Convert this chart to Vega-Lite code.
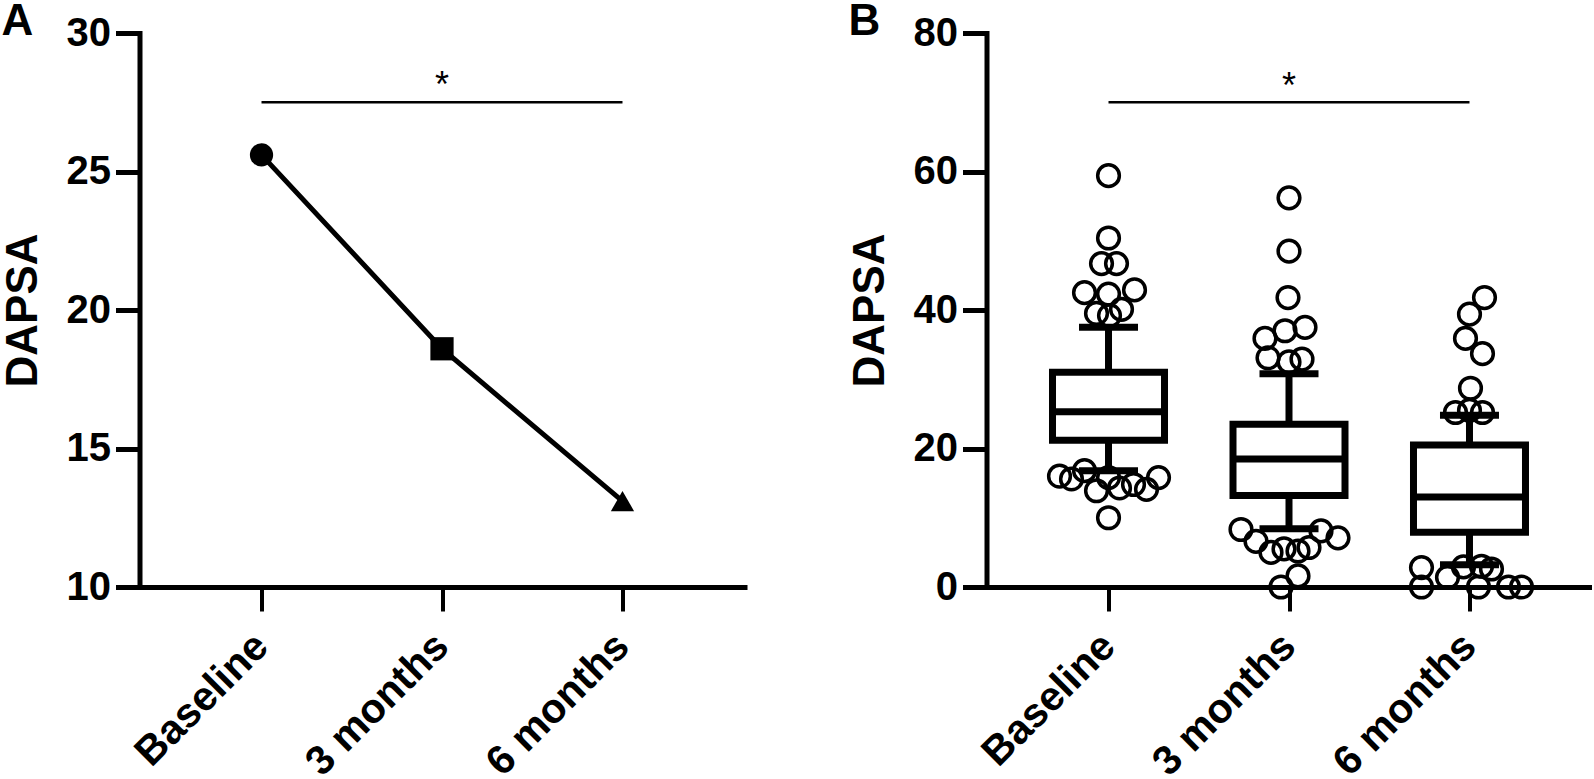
{
  "$schema": "https://vega.github.io/schema/vega-lite/v6.json",
  "background": "white",
  "padding": {"left": 1.5, "top": 0, "right": 0, "bottom": 0},
  "spacing": 242,
  "bounds": "flush",
  "config": {
    "view": {"stroke": null},
    "font": "Liberation Sans",
    "axis": {"grid": false, "domainColor": "black", "domainWidth": 5, "domainCap": "square", "tickColor": "black", "tickWidth": 5, "tickSize": 24, "labelColor": "black", "labelFont": "Liberation Sans", "labelFontWeight": "bold", "labelLimit": 0, "titleColor": "black", "titleFont": "Liberation Sans", "titleFontWeight": "bold", "titleFontSize": 44},
    "axisY": {"labelFontSize": 40, "labelPadding": 5, "titleX": -103, "titleBaseline": "alphabetic"},
    "axisX": {"labelFontSize": 41, "labelAngle": -45, "labelAlign": "right", "labelBaseline": "middle", "labelPadding": 29, "tickWidth": 4},
    "title": {"font": "Liberation Sans", "fontSize": 44, "fontWeight": "bold", "color": "black", "anchor": "start", "frame": "bounds", "baseline": "alphabetic", "offset": -31}
  },
  "hconcat": [
    {
      "width": 605,
      "height": 554,
      "title": {"text": "A"},
      "layer": [
        {
          "data": {"values": [{"start": "Baseline", "end": "6 months", "y": 27.5}]},
          "mark": {"type": "rule", "color": "black", "strokeWidth": 2.5},
          "encoding": {
            "x": {"field": "start", "type": "nominal", "title": null, "scale": {"type": "point", "domain": ["Baseline", "3 months", "6 months"], "padding": 0.676}},
            "x2": {"field": "end"},
            "y": {"field": "y", "type": "quantitative", "title": "DAPSA", "scale": {"domain": [10, 30], "zero": false, "nice": false}, "axis": {"values": [10, 15, 20, 25, 30]}}
          }
        },
        {
          "data": {"values": [{"time": "3 months", "y": 27.68, "label": "*"}]},
          "mark": {"type": "text", "fontSize": 36, "baseline": "alphabetic", "align": "center", "color": "black"},
          "encoding": {
            "x": {"field": "time", "type": "nominal", "title": null, "scale": {"type": "point", "domain": ["Baseline", "3 months", "6 months"], "padding": 0.676}},
            "y": {"field": "y", "type": "quantitative", "title": "DAPSA", "scale": {"domain": [10, 30], "zero": false, "nice": false}, "axis": {"values": [10, 15, 20, 25, 30]}},
            "text": {"field": "label"}
          }
        },
        {
          "data": {"values": [
            {"time": "Baseline", "dapsa": 25.6},
            {"time": "3 months", "dapsa": 18.6},
            {"time": "6 months", "dapsa": 13.1}
          ]},
          "encoding": {
            "x": {"field": "time", "type": "nominal", "title": null, "scale": {"type": "point", "domain": ["Baseline", "3 months", "6 months"], "padding": 0.676}},
            "y": {"field": "dapsa", "type": "quantitative", "title": "DAPSA", "scale": {"domain": [10, 30], "zero": false, "nice": false}, "axis": {"values": [10, 15, 20, 25, 30]}}
          },
          "layer": [
            {"mark": {"type": "line", "color": "black", "strokeWidth": 5}},
            {
              "mark": {"type": "point", "filled": true, "color": "black", "opacity": 1, "size": 540},
              "encoding": {
                "shape": {"field": "time", "type": "nominal", "legend": null, "scale": {"domain": ["Baseline", "3 months", "6 months"], "range": ["circle", "square", "triangle-up"]}}
              }
            }
          ]
        }
      ]
    },
    {
      "width": 605,
      "height": 554,
      "title": {"text": "B"},
      "layer": [
        {
          "data": {"name": "boxes", "values": [
            {"time": "Baseline", "lo": 16.8, "q1": 21.2, "med": 25.3, "q3": 31.0, "hi": 37.5},
            {"time": "3 months", "lo": 8.4, "q1": 13.2, "med": 18.5, "q3": 23.5, "hi": 30.8},
            {"time": "6 months", "lo": 3.2, "q1": 7.9, "med": 13.0, "q3": 20.5, "hi": 24.8}
          ]},
          "encoding": {
            "x": {"field": "time", "type": "nominal", "title": null, "scale": {"type": "point", "domain": ["Baseline", "3 months", "6 months"], "padding": 0.676}}
          },
          "layer": [
            {
              "mark": {"type": "rule", "color": "black", "strokeWidth": 7},
              "encoding": {
                "y": {"field": "lo", "type": "quantitative", "title": "DAPSA", "scale": {"domain": [0, 80], "nice": false}, "axis": {"values": [0, 20, 40, 60, 80]}},
                "y2": {"field": "hi"}
              }
            },
            {
              "mark": {"type": "bar", "fill": "white", "stroke": "black", "strokeWidth": 7, "width": 112, "opacity": 1},
              "encoding": {
                "y": {"field": "q1", "type": "quantitative", "title": "DAPSA", "scale": {"domain": [0, 80], "nice": false}, "axis": {"values": [0, 20, 40, 60, 80]}},
                "y2": {"field": "q3"}
              }
            },
            {
              "mark": {"type": "tick", "color": "black", "thickness": 7, "size": 112, "opacity": 1},
              "encoding": {
                "y": {"field": "med", "type": "quantitative", "title": "DAPSA", "scale": {"domain": [0, 80], "nice": false}, "axis": {"values": [0, 20, 40, 60, 80]}}
              }
            },
            {
              "mark": {"type": "tick", "color": "black", "thickness": 7, "size": 59, "opacity": 1},
              "encoding": {
                "y": {"field": "lo", "type": "quantitative", "title": "DAPSA", "scale": {"domain": [0, 80], "nice": false}, "axis": {"values": [0, 20, 40, 60, 80]}}
              }
            },
            {
              "mark": {"type": "tick", "color": "black", "thickness": 7, "size": 59, "opacity": 1},
              "encoding": {
                "y": {"field": "hi", "type": "quantitative", "title": "DAPSA", "scale": {"domain": [0, 80], "nice": false}, "axis": {"values": [0, 20, 40, 60, 80]}}
              }
            }
          ]
        },
        {
          "data": {"values": [
            {"time": "Baseline", "v": 59.4, "j": 0},
            {"time": "Baseline", "v": 50.4, "j": 0},
            {"time": "Baseline", "v": 46.7, "j": -7},
            {"time": "Baseline", "v": 46.7, "j": 8},
            {"time": "Baseline", "v": 42.5, "j": -24},
            {"time": "Baseline", "v": 42.3, "j": 0},
            {"time": "Baseline", "v": 42.9, "j": 26},
            {"time": "Baseline", "v": 39.5, "j": -12},
            {"time": "Baseline", "v": 39.2, "j": 1},
            {"time": "Baseline", "v": 40.1, "j": 13},
            {"time": "Baseline", "v": 16.0, "j": -49},
            {"time": "Baseline", "v": 15.6, "j": -37},
            {"time": "Baseline", "v": 16.8, "j": -24},
            {"time": "Baseline", "v": 13.9, "j": -12},
            {"time": "Baseline", "v": 15.8, "j": 0},
            {"time": "Baseline", "v": 14.3, "j": 11},
            {"time": "Baseline", "v": 14.8, "j": 25},
            {"time": "Baseline", "v": 14.1, "j": 38},
            {"time": "Baseline", "v": 15.8, "j": 50},
            {"time": "Baseline", "v": 10.0, "j": 0},
            {"time": "3 months", "v": 56.2, "j": 0},
            {"time": "3 months", "v": 48.5, "j": 0},
            {"time": "3 months", "v": 41.8, "j": -1},
            {"time": "3 months", "v": 35.9, "j": -24},
            {"time": "3 months", "v": 37.0, "j": -4},
            {"time": "3 months", "v": 37.5, "j": 16},
            {"time": "3 months", "v": 33.1, "j": -21},
            {"time": "3 months", "v": 32.5, "j": 0},
            {"time": "3 months", "v": 32.9, "j": 13},
            {"time": "3 months", "v": 8.3, "j": -48},
            {"time": "3 months", "v": 6.6, "j": -33},
            {"time": "3 months", "v": 5.0, "j": -18},
            {"time": "3 months", "v": 5.5, "j": -5},
            {"time": "3 months", "v": 5.2, "j": 9},
            {"time": "3 months", "v": 5.7, "j": 20},
            {"time": "3 months", "v": 8.1, "j": 32},
            {"time": "3 months", "v": 7.1, "j": 49},
            {"time": "3 months", "v": 1.6, "j": 9},
            {"time": "3 months", "v": 0, "j": -8},
            {"time": "6 months", "v": 41.8, "j": 15},
            {"time": "6 months", "v": 39.4, "j": 0},
            {"time": "6 months", "v": 35.9, "j": -4},
            {"time": "6 months", "v": 33.7, "j": 13},
            {"time": "6 months", "v": 28.7, "j": 1},
            {"time": "6 months", "v": 25.2, "j": -14},
            {"time": "6 months", "v": 25.5, "j": 0},
            {"time": "6 months", "v": 25.2, "j": 13},
            {"time": "6 months", "v": 2.8, "j": -48},
            {"time": "6 months", "v": 0, "j": -48},
            {"time": "6 months", "v": 1.4, "j": -22},
            {"time": "6 months", "v": 2.9, "j": -6},
            {"time": "6 months", "v": 3.0, "j": 12},
            {"time": "6 months", "v": 2.6, "j": 22},
            {"time": "6 months", "v": 0, "j": 9},
            {"time": "6 months", "v": 0, "j": 39},
            {"time": "6 months", "v": 0, "j": 52}
          ]},
          "mark": {"type": "point", "shape": "circle", "filled": false, "stroke": "black", "strokeWidth": 3.5, "size": 470, "opacity": 1},
          "encoding": {
            "x": {"field": "time", "type": "nominal", "title": null, "scale": {"type": "point", "domain": ["Baseline", "3 months", "6 months"], "padding": 0.676}},
            "xOffset": {"field": "j", "type": "quantitative", "scale": {"domain": [-100, 100], "range": [-100, 100], "zero": false, "nice": false}},
            "y": {"field": "v", "type": "quantitative", "title": "DAPSA", "scale": {"domain": [0, 80], "nice": false}, "axis": {"values": [0, 20, 40, 60, 80]}}
          }
        },
        {
          "data": {"values": [{"start": "Baseline", "end": "6 months", "y": 70}]},
          "mark": {"type": "rule", "color": "black", "strokeWidth": 2.5},
          "encoding": {
            "x": {"field": "start", "type": "nominal", "title": null, "scale": {"type": "point", "domain": ["Baseline", "3 months", "6 months"], "padding": 0.676}},
            "x2": {"field": "end"},
            "y": {"field": "y", "type": "quantitative", "title": "DAPSA", "scale": {"domain": [0, 80], "nice": false}, "axis": {"values": [0, 20, 40, 60, 80]}}
          }
        },
        {
          "data": {"values": [{"time": "3 months", "y": 70.65, "label": "*"}]},
          "mark": {"type": "text", "fontSize": 36, "baseline": "alphabetic", "align": "center", "color": "black"},
          "encoding": {
            "x": {"field": "time", "type": "nominal", "title": null, "scale": {"type": "point", "domain": ["Baseline", "3 months", "6 months"], "padding": 0.676}},
            "y": {"field": "y", "type": "quantitative", "title": "DAPSA", "scale": {"domain": [0, 80], "nice": false}, "axis": {"values": [0, 20, 40, 60, 80]}},
            "text": {"field": "label"}
          }
        }
      ]
    }
  ]
}
